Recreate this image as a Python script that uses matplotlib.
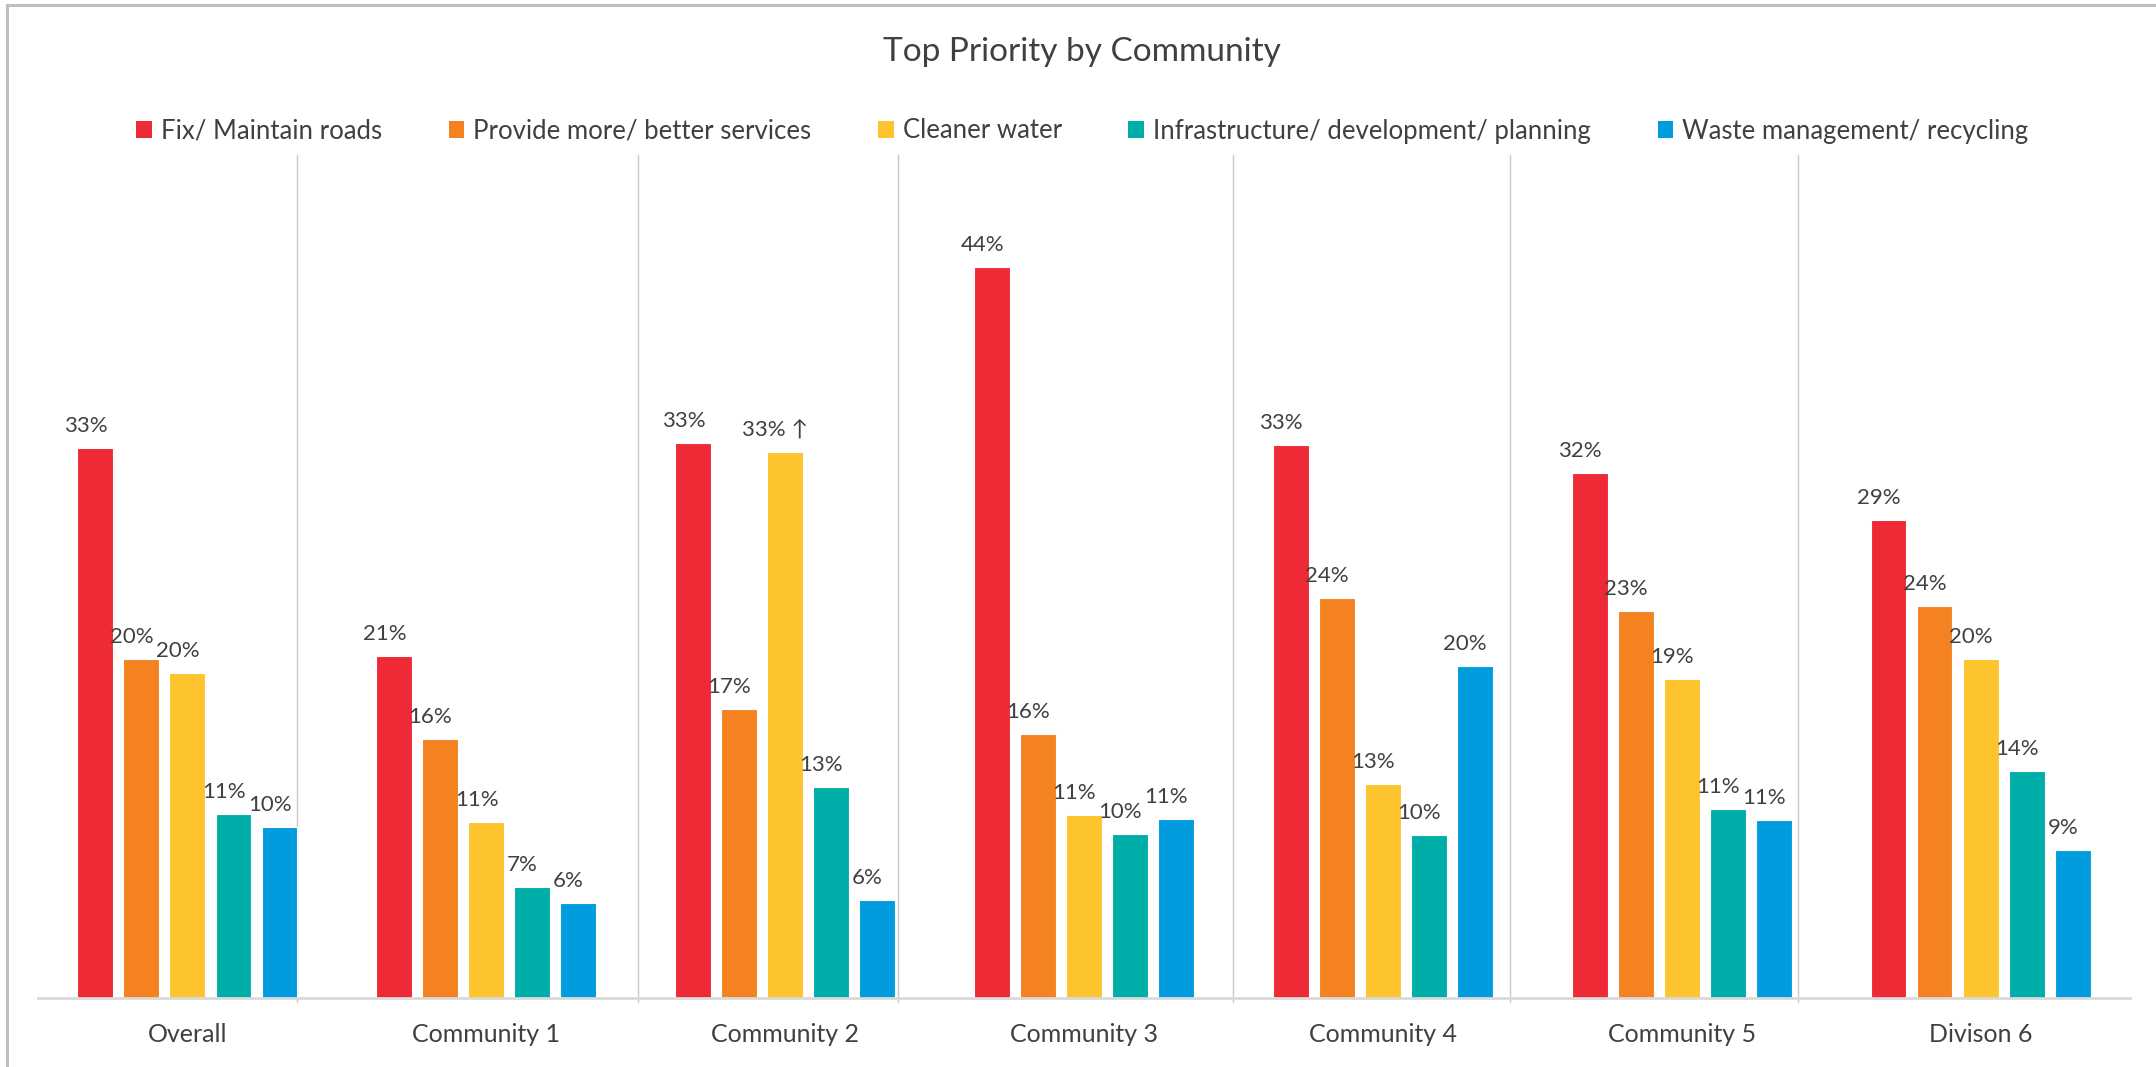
import numpy as np
import matplotlib.pyplot as plt
from matplotlib.patches import Patch
from matplotlib.lines import Line2D
from matplotlib.transforms import blended_transform_factory

plt.rcParams['font.family'] = ['Lato', 'DejaVu Sans']

groups = ["Overall", "Community 1", "Community 2", "Community 3",
          "Community 4", "Community 5", "Divison 6"]
series = ["Fix/ Maintain roads", "Provide more/ better services", "Cleaner water",
          "Infrastructure/ development/ planning", "Waste management/ recycling"]

roads = [33.1, 20.6, 33.4, 44.0, 33.3, 31.6, 28.8]
services = [20.4, 15.6, 17.4, 15.9, 24.1, 23.3, 23.6]
water = [19.6, 10.6, 32.9, 11.0, 12.9, 19.2, 20.4]
infra = [11.1, 6.7, 12.7, 9.9, 9.8, 11.4, 13.7]
waste = [10.3, 5.7, 5.9, 10.8, 20.0, 10.7, 8.9]

# extra marker appended to a single label: (series index, group index) -> suffix
label_suffix = {(2, 2): " \u2191"}

colors = ["#EE2A36", "#F48220", "#FEC42E", "#00AEA9", "#009CDE"]
text_col = "#404040"

# hand-placed divider lines between groups (in category units)
divider_x = [0.368, 1.508, 2.378, 3.498, 4.425, 5.388]

W, H = 2156, 1067
fig = plt.figure(figsize=(W / 100, H / 100), dpi=100)
ax = fig.add_axes([38 / W, (H - 998) / H, (2130 - 38) / W, (998 - 201) / H])

values = [roads, services, water, infra, waste]
x = np.arange(len(groups))
pitch = 0.154
width = 0.12
for s, vals in enumerate(values):
    xs = x + (s - 2) * pitch
    bars = ax.bar(xs, vals, width=width, color=colors[s], edgecolor="white",
                  linewidth=0.8, zorder=2)
    for g, (b, v) in enumerate(zip(bars, vals)):
        txt = f"{v:.0f}%" + label_suffix.get((s, g), "")
        ax.annotate(txt, (b.get_x() + b.get_width() / 2, v),
                    xytext=(-7, 11.5), textcoords="offset points",
                    ha="center", va="baseline", fontsize=16, color=text_col)

ax.set_xlim(-0.5, len(groups) - 0.5)
ax.set_ylim(0, 48)
ax.set_yticks([])
ax.set_xticks(x)
ax.set_xticklabels(groups, fontsize=18, color=text_col)
ax.tick_params(axis="x", length=0, pad=18)
for sp in ["top", "left", "right"]:
    ax.spines[sp].set_visible(False)
ax.spines["bottom"].set_color("#d9d9d9")
ax.spines["bottom"].set_linewidth(2)

# vertical dividers run from above the plot down just past the baseline
tr = blended_transform_factory(ax.transData, fig.transFigure)
for dx in divider_x:
    ax.add_line(Line2D([dx, dx], [(H - 155) / H, (H - 1002) / H], transform=tr,
                       color="#c8c8c8", linewidth=1.0, clip_on=False, zorder=1))

fig.text(0.502, (H - 52) / H, "Top Priority by Community", ha="center", va="center",
         fontsize=24, color=text_col)

handles = [Patch(facecolor=c, edgecolor="none") for c in colors]
fig.legend(handles, series, loc="center", bbox_to_anchor=(0.502, (H - 131) / H),
           ncol=5, frameon=False, fontsize=18.5, labelcolor=text_col,
           handlelength=0.6, handleheight=0.6, handletextpad=0.35,
           columnspacing=2.6)

# outer frame: top and left edges
fig.add_artist(Line2D([7 / W, 1], [(H - 5) / H, (H - 5) / H], transform=fig.transFigure,
                      color="#bfbfbf", linewidth=2.2))
fig.add_artist(Line2D([7 / W, 7 / W], [0, (H - 5) / H], transform=fig.transFigure,
                      color="#bfbfbf", linewidth=2.2))

fig.savefig("out.png", dpi=100)
